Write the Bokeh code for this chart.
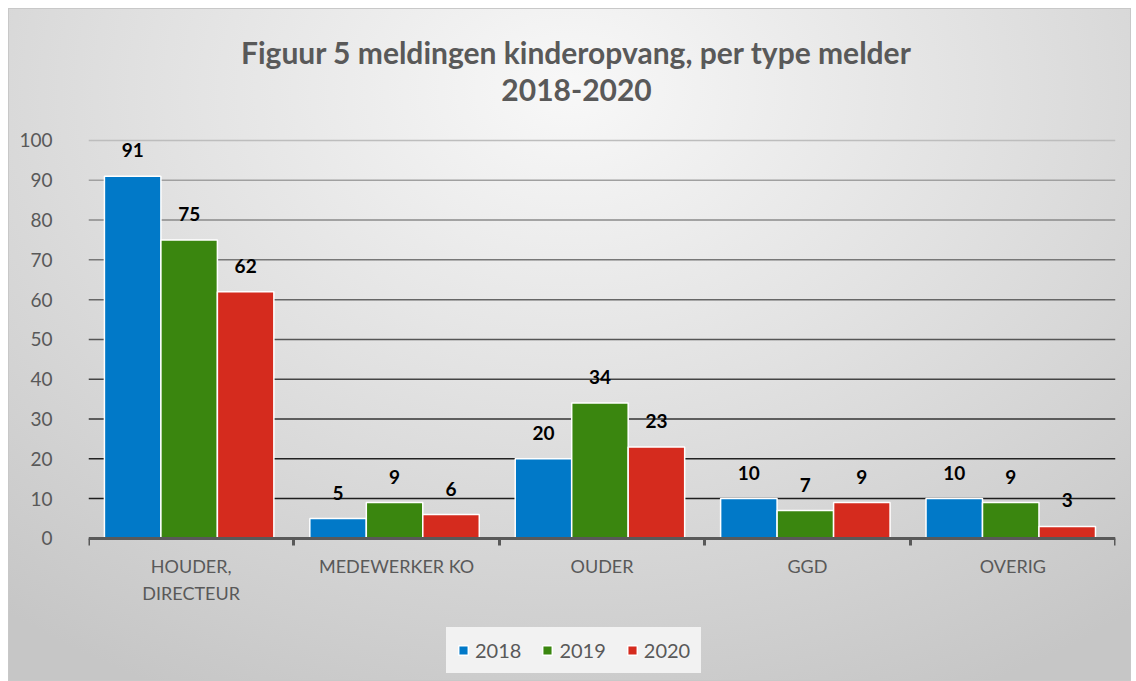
from bokeh.plotting import figure
from bokeh.models import (ColumnDataSource, Range1d, FixedTicker, LabelSet, Legend,
                          LegendItem, Label)
from bokeh.core.properties import value
from bokeh.embed import file_html
from bokeh.resources import INLINE

# ---- data ----
categories = ["HOUDER,\nDIRECTEUR", "MEDEWERKER KO", "OUDER", "GGD", "OVERIG"]
years = ["2018", "2019", "2020"]
v2018 = [91, 5, 20, 10, 10]
v2019 = [75, 9, 34, 7, 9]
v2020 = [62, 6, 23, 9, 3]
y_ticks = [0, 10, 20, 30, 40, 50, 60, 70, 80, 90, 100]
title_lines = ["Figuur 5 meldingen kinderopvang, per type melder", "2018-2020"]

# ---- style ----
colors = ["#0179C8", "#3A860F", "#D52B1E"]
grid_colors = ["#1e1e1e", "#222222", "#333333", "#444444", "#555555",
               "#666666", "#777777", "#8a8a8a", "#a0a0a0", "#bdbdbd"]
FONT = "Lato"
GRAY = "#595959"
offsets = [-0.275, 0.0, 0.275]
bar_w = 0.275

# frame spans the whole height; the value axis runs 0..100 inside it
p = figure(width=1121, height=671, output_backend="svg", toolbar_location=None,
           x_range=Range1d(0, len(categories)), y_range=Range1d(-35.7, 132.9),
           min_border_left=79, min_border_right=15, min_border_top=0,
           min_border_bottom=0)
p.margin = (9, 0, 0, 9)
p.background_fill_color = None
p.border_fill_color = None
p.outline_line_color = None
p.styles = {"background": "radial-gradient(ellipse 80% 100% at 50% 12%, #f8f8f8 0%, #e2e2e2 45%, #c6c6c6 100%)",
            "outline": "1px solid #c8c8c8"}

# title (two centred lines)
for txt, ty in zip(title_lines, [122.1, 112.6]):
    p.add_layout(Label(x=2.376, y=ty, text=txt, text_align="center",
                       text_baseline="middle", text_font=FONT,
                       text_font_size="30px", text_font_style="bold",
                       text_color=GRAY))

# gridlines
grid_src = ColumnDataSource(dict(y=y_ticks[1:], c=grid_colors))
p.segment(x0=0, x1=len(categories), y0="y", y1="y", color="c", line_width=1.5,
          source=grid_src)
p.xgrid.grid_line_color = None
p.ygrid.grid_line_color = None

# bars
series = [v2018, v2019, v2020]
items = []
for i, (yr, vals) in enumerate(zip(years, series)):
    xs = [k + 0.49 + offsets[i] for k in range(len(categories))]
    src = ColumnDataSource(dict(x=xs, top=vals, lab=[str(v) for v in vals]))
    r = p.vbar(x="x", top="top", width=bar_w, bottom=0, source=src,
               fill_color=colors[i], line_color="white", line_width=1.5)
    items.append(LegendItem(label=yr, renderers=[r]))
    p.add_layout(LabelSet(x="x", y="top", text="lab", source=src, y_offset=26,
                          text_align="center", text_baseline="middle",
                          text_font=value(FONT), text_font_size=value("19px"),
                          text_font_style=value("bold"), text_color=value("black")))

# axes
p.xaxis.fixed_location = 0
p.xaxis.ticker = FixedTicker(ticks=[k + 0.5 for k in range(len(categories))],
                             minor_ticks=list(range(len(categories) + 1)))
p.xaxis.major_label_overrides = {k + 0.5: c for k, c in enumerate(categories)}
p.xaxis.axis_line_color = GRAY
p.xaxis.axis_line_width = 3
p.xaxis.major_tick_line_color = None
p.xaxis.minor_tick_line_color = GRAY
p.xaxis.minor_tick_line_width = 3
p.xaxis.minor_tick_out = 7
p.xaxis.minor_tick_in = 0
p.xaxis.major_label_text_font = FONT
p.xaxis.major_label_text_font_size = "18px"
p.xaxis.major_label_text_color = GRAY
p.xaxis.major_label_standoff = 10

p.yaxis.ticker = FixedTicker(ticks=y_ticks)
p.yaxis.axis_line_color = None
p.yaxis.major_tick_line_color = None
p.yaxis.minor_tick_line_color = None
p.yaxis.major_label_text_font = FONT
p.yaxis.major_label_text_font_size = "19px"
p.yaxis.major_label_text_color = GRAY
p.yaxis.major_label_standoff = 30

legend = Legend(items=items, orientation="horizontal", location=(358, 7),
                label_text_font=FONT, label_text_font_size="20px",
                label_text_color=GRAY, glyph_width=12, glyph_height=12,
                label_standoff=6, spacing=20, padding=10, margin=0,
                label_height=20,
                background_fill_color="#f2f2f2", background_fill_alpha=1,
                border_line_color="#f2f2f2", border_line_width=1)
p.add_layout(legend, "center")

open("out.html", "w").write(file_html(p, INLINE))
